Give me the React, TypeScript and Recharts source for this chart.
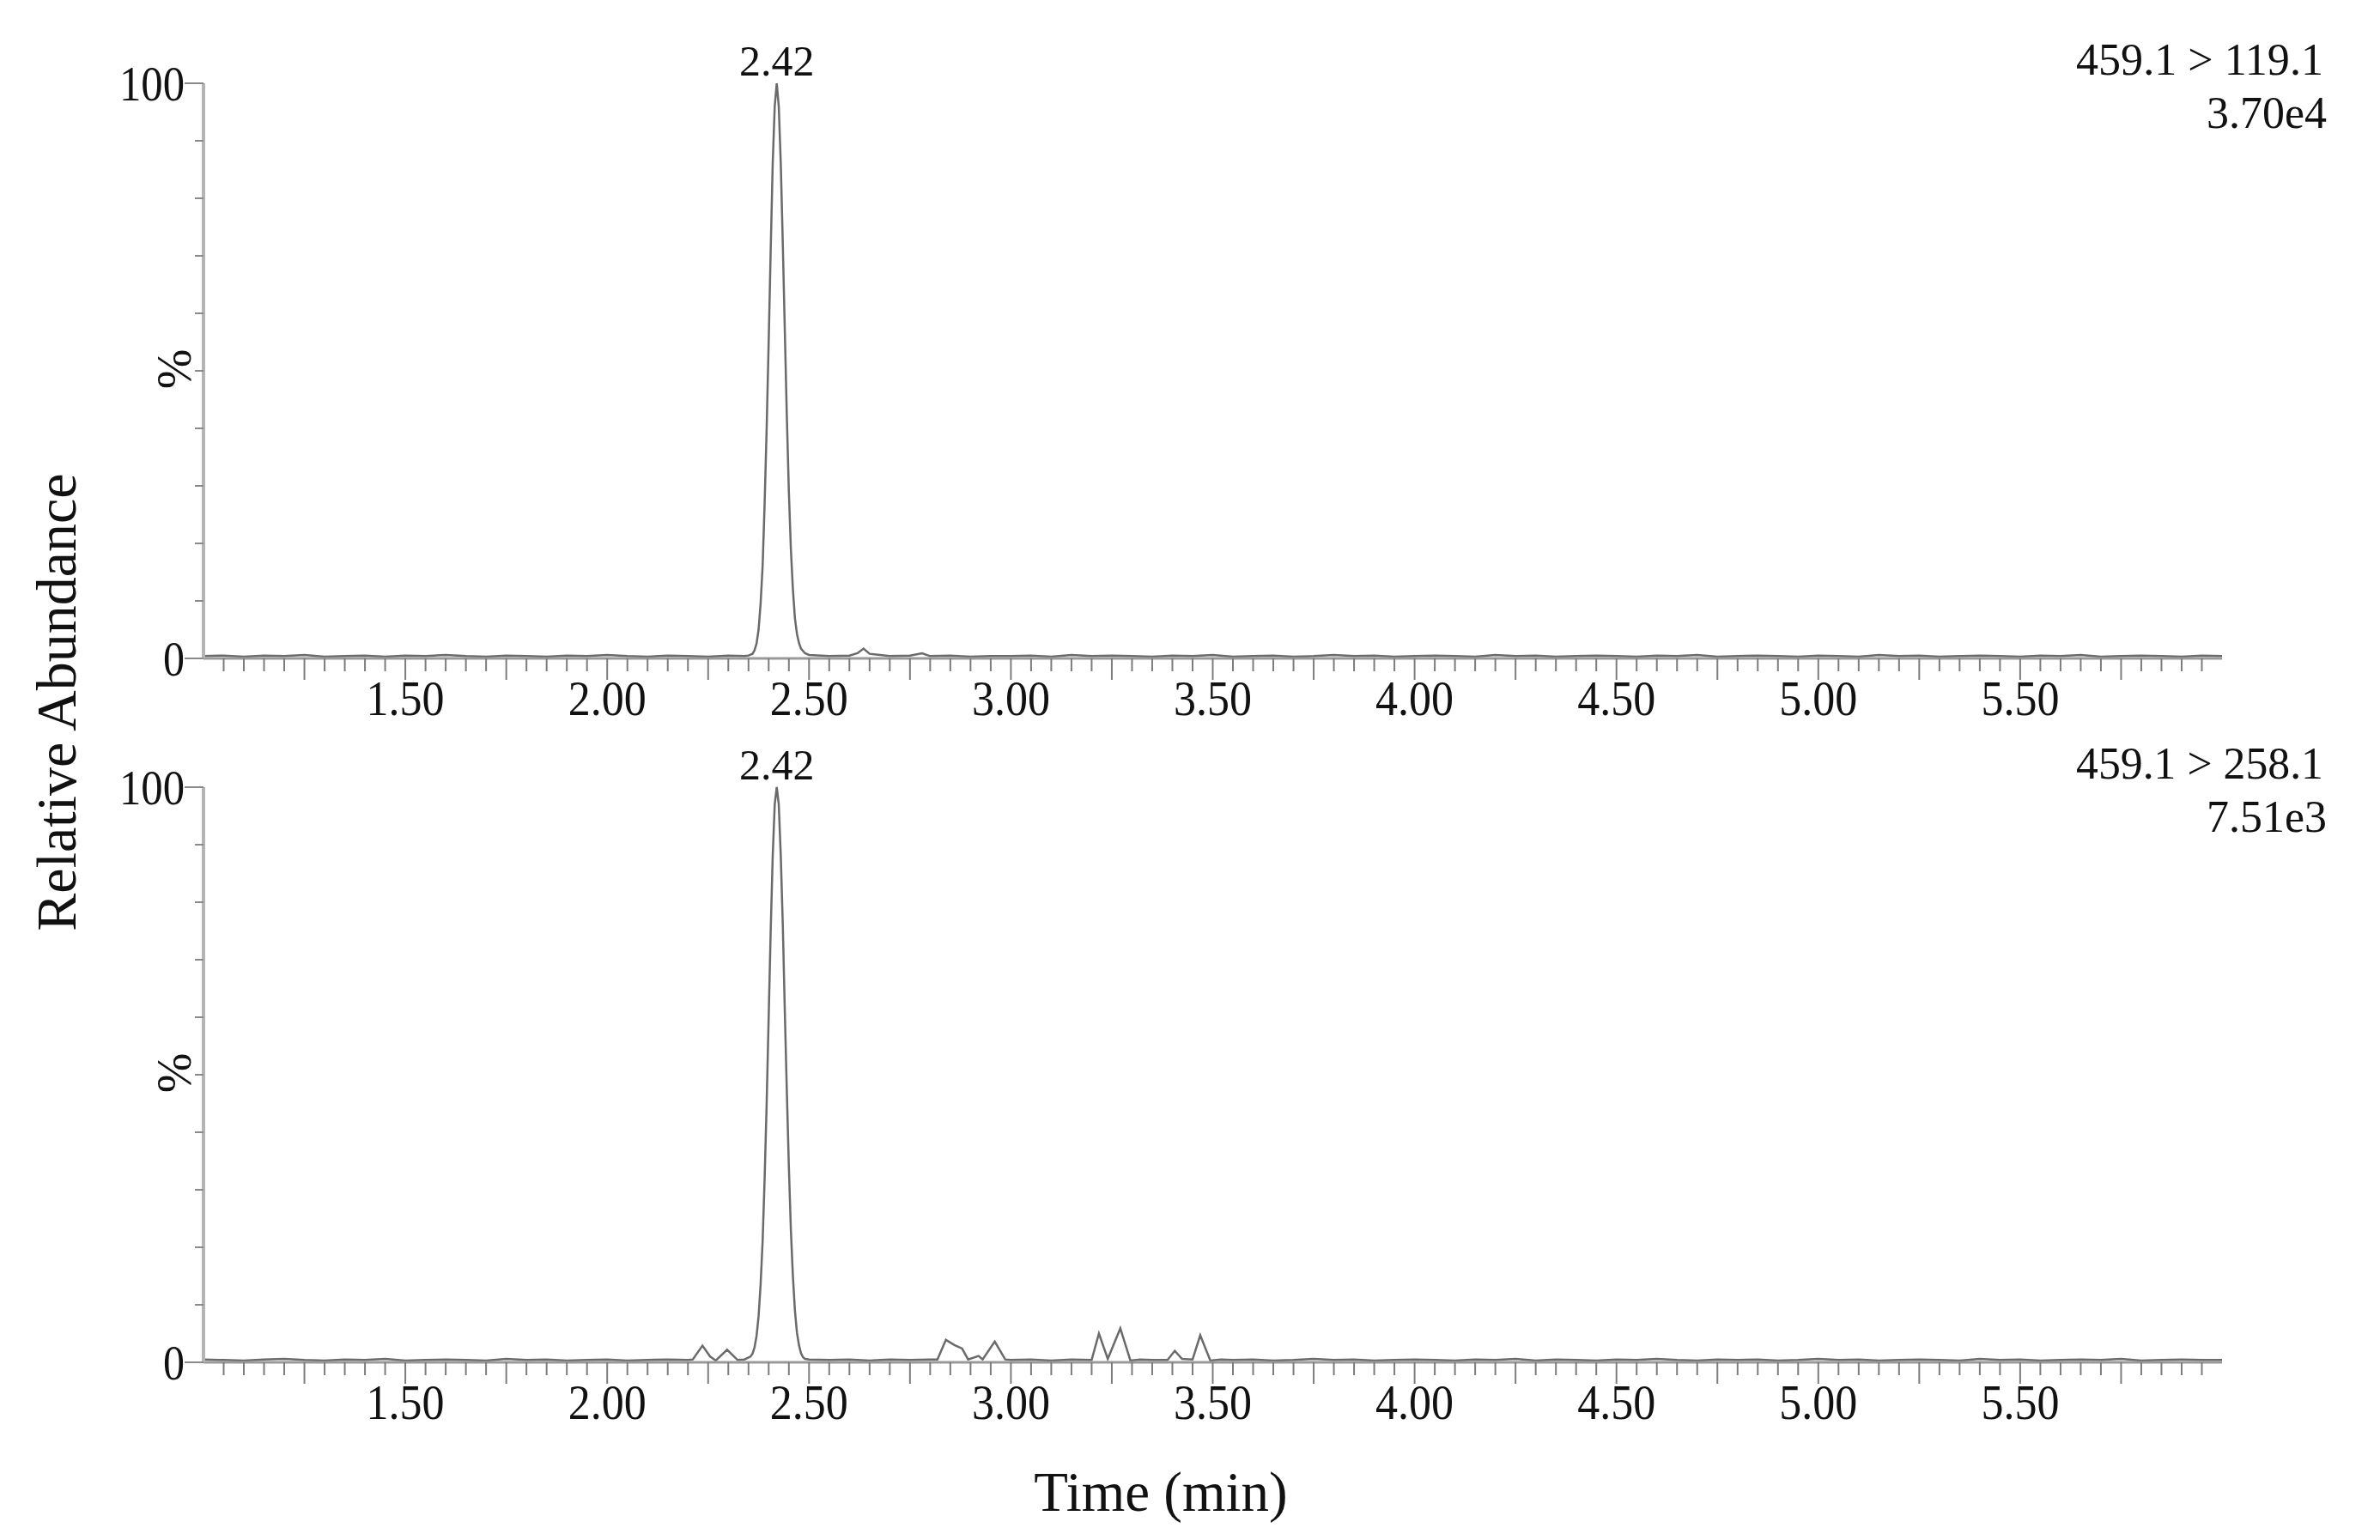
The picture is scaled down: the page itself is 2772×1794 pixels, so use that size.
import { LineChart, Line, XAxis, YAxis, ReferenceDot } from 'recharts';

const FONT = '"Liberation Serif", "Times New Roman", serif';
const W = 2772;
const PANEL_H = 847;
const PANEL_TOPS = [0, 820];

// channel text, top-right of each trace
const TRANSITIONS = ['459.1 > 119.1', '459.1 > 258.1'];
const INTENSITIES = ['3.70e4', '7.51e3'];
const PEAK_LABELS = ['2.42', '2.42'];

// axis ticks
const X_LABELS = [1.5, 2.0, 2.5, 3.0, 3.5, 4.0, 4.5, 5.0, 5.5];
const X_TICKS = Array.from({ length: 99 }, (_, i) => Math.round((1.05 + i * 0.05) * 100) / 100);
const Y_TICKS = [0, 10, 20, 30, 40, 50, 60, 70, 80, 90, 100];

// 459.1 > 119.1 (min, % relative abundance)
const TOP_TIME = [
  1.00, 1.05, 1.10, 1.15, 1.20, 1.25, 1.30, 1.35, 1.40, 1.45,
  1.50, 1.55, 1.60, 1.65, 1.70, 1.75, 1.80, 1.85, 1.90, 1.95,
  2.00, 2.05, 2.10, 2.15, 2.20, 2.25, 2.30,
  2.34, 2.35, 2.36, 2.365, 2.37, 2.375, 2.38, 2.385, 2.39, 2.395,
  2.40, 2.405, 2.41, 2.415, 2.42, 2.425, 2.43, 2.435, 2.44, 2.445,
  2.45, 2.455, 2.46, 2.465, 2.47, 2.475, 2.48, 2.49, 2.50,
  2.55, 2.60, 2.62, 2.635, 2.65, 2.70, 2.75, 2.78, 2.80, 2.85, 2.90, 2.95,
  3.00, 3.05, 3.10, 3.15, 3.20, 3.25, 3.30, 3.35, 3.40, 3.45,
  3.50, 3.55, 3.60, 3.65, 3.70, 3.75, 3.80, 3.85, 3.90, 3.95,
  4.00, 4.05, 4.10, 4.15, 4.20, 4.25, 4.30, 4.35, 4.40, 4.45,
  4.50, 4.55, 4.60, 4.65, 4.70, 4.75, 4.80, 4.85, 4.90, 4.95,
  5.00, 5.05, 5.10, 5.15, 5.20, 5.25, 5.30, 5.35, 5.40, 5.45,
  5.50, 5.55, 5.60, 5.65, 5.70, 5.75, 5.80, 5.85, 5.90, 5.95,
  6.00,
];
const TOP_ABUND = [
  0.4, 0.5, 0.3, 0.5, 0.4, 0.6, 0.3, 0.4, 0.5, 0.3,
  0.5, 0.4, 0.6, 0.4, 0.3, 0.5, 0.4, 0.3, 0.5, 0.4,
  0.6, 0.4, 0.3, 0.5, 0.4, 0.3, 0.5,
  0.4, 0.5, 0.8, 1.4, 2.6, 5, 9.5, 16, 27, 40,
  55, 71, 86, 96, 100, 96, 86, 72, 57, 42,
  29, 19, 12, 7, 4.3, 2.7, 1.7, 0.9, 0.6,
  0.4, 0.5, 0.9, 1.7, 0.8, 0.4, 0.5, 0.9, 0.4, 0.5, 0.3, 0.4,
  0.4, 0.5, 0.3, 0.6, 0.4, 0.5, 0.4, 0.3, 0.5, 0.4,
  0.6, 0.3, 0.4, 0.5, 0.3, 0.4, 0.6, 0.4, 0.5, 0.3,
  0.4, 0.5, 0.4, 0.3, 0.6, 0.4, 0.5, 0.3, 0.4, 0.5,
  0.4, 0.3, 0.5, 0.4, 0.6, 0.3, 0.4, 0.5, 0.4, 0.3,
  0.5, 0.4, 0.3, 0.6, 0.4, 0.5, 0.3, 0.4, 0.5, 0.4,
  0.3, 0.5, 0.4, 0.6, 0.3, 0.4, 0.5, 0.4, 0.3, 0.5,
  0.4,
];

// 459.1 > 258.1
const BOTTOM_TIME = [
  1.00, 1.05, 1.10, 1.15, 1.20, 1.25, 1.30, 1.35, 1.40, 1.45,
  1.50, 1.55, 1.60, 1.65, 1.70, 1.75, 1.80, 1.85, 1.90, 1.95,
  2.00, 2.05, 2.10, 2.15,
  2.20, 2.212, 2.236, 2.255, 2.269, 2.297, 2.323, 2.34,
  2.355, 2.36, 2.365, 2.37, 2.375, 2.38, 2.385, 2.39, 2.395, 2.40,
  2.405, 2.41, 2.415, 2.42, 2.425, 2.43, 2.435, 2.44, 2.445, 2.45,
  2.455, 2.46, 2.465, 2.47, 2.475, 2.48, 2.485, 2.49,
  2.50, 2.55, 2.60, 2.65, 2.70, 2.75, 2.80, 2.818, 2.839, 2.86, 2.879, 2.894, 2.92, 2.93, 2.96, 2.986,
  3.00, 3.05, 3.10, 3.15, 3.20, 3.218, 3.24, 3.271, 3.296, 3.32, 3.35, 3.388, 3.406, 3.424, 3.45, 3.469, 3.494, 3.52, 3.55,
  3.60, 3.65, 3.70, 3.75, 3.80, 3.85, 3.90, 3.95,
  4.00, 4.05, 4.10, 4.15, 4.20, 4.25, 4.30, 4.35, 4.40, 4.45,
  4.50, 4.55, 4.60, 4.65, 4.70, 4.75, 4.80, 4.85, 4.90, 4.95,
  5.00, 5.05, 5.10, 5.15, 5.20, 5.25, 5.30, 5.35, 5.40, 5.45,
  5.50, 5.55, 5.60, 5.65, 5.70, 5.75, 5.80, 5.85, 5.90, 5.95,
  6.00,
];
const BOTTOM_ABUND = [
  0.5, 0.4, 0.3, 0.5, 0.6, 0.4, 0.3, 0.5, 0.4, 0.6,
  0.3, 0.4, 0.5, 0.4, 0.3, 0.6, 0.4, 0.5, 0.3, 0.4,
  0.5, 0.3, 0.4, 0.5,
  0.4, 0.5, 2.9, 1.0, 0.3, 2.2, 0.4, 0.5,
  1.0, 1.5, 2.6, 4.6, 8, 13.5, 21, 32, 45, 60,
  75, 88, 97, 100, 97, 88, 76, 61, 47, 34,
  23, 15, 9, 5.2, 3.0, 1.6, 0.9, 0.6,
  0.5, 0.4, 0.5, 0.3, 0.5, 0.4, 0.5, 0.5, 3.9, 3.0, 2.4, 0.5, 1.1, 0.5, 3.6, 0.5,
  0.4, 0.5, 0.3, 0.5, 0.4, 5.0, 0.6, 5.9, 0.3, 0.5, 0.4, 0.4, 2.0, 0.6, 0.5, 4.7, 0.3, 0.5, 0.4,
  0.5, 0.3, 0.4, 0.6, 0.4, 0.5, 0.3, 0.4,
  0.5, 0.4, 0.3, 0.5, 0.4, 0.6, 0.3, 0.5, 0.4, 0.3,
  0.5, 0.4, 0.6, 0.4, 0.3, 0.5, 0.4, 0.5, 0.3, 0.4,
  0.6, 0.4, 0.5, 0.3, 0.4, 0.5, 0.4, 0.3, 0.6, 0.4,
  0.5, 0.3, 0.4, 0.5, 0.4, 0.6, 0.3, 0.4, 0.5, 0.4,
  0.4,
];

const isQuarter = (v: number) => Math.abs(v * 4 - Math.round(v * 4)) < 1e-6;

function XTick(props: any) {
  const { x, y, payload } = props;
  const v = payload.value as number;
  const labeled = X_LABELS.some((l) => Math.abs(l - v) < 1e-6);
  return (
    <g>
      <line x1={x} x2={x} y1={y} y2={y + (isQuarter(v) ? 25 : 15)} stroke="#7c7c7c" strokeWidth={2} />
      {labeled && (
        <text
          x={x}
          y={y + 66}
          textAnchor="middle"
          fontSize={56}
          fontFamily={FONT}
          fill="#111"
          textLength={91}
          lengthAdjust="spacingAndGlyphs"
        >
          {v.toFixed(2)}
        </text>
      )}
    </g>
  );
}

function YTick(props: any) {
  const { x, y, payload } = props;
  const v = payload.value as number;
  const major = v === 0 || v === 100;
  return (
    <g>
      <line x1={x - (major ? 22 : 10)} x2={x} y1={y} y2={y} stroke="#8a8a8a" strokeWidth={2} />
      {major && (
        <text
          x={x - 22}
          y={y}
          textAnchor="end"
          dominantBaseline="central"
          fontSize={58}
          fontFamily={FONT}
          fill="#111"
          textLength={v === 100 ? 76 : 25}
          lengthAdjust="spacingAndGlyphs"
        >
          {v}
        </text>
      )}
      {v === 50 && (
        <text
          transform={`translate(${x - 34}, ${y - 2}) rotate(-90)`}
          textAnchor="middle"
          dominantBaseline="central"
          fontSize={56}
          fontFamily={FONT}
          fill="#111"
        >
          %
        </text>
      )}
    </g>
  );
}

interface PanelProps {
  time: number[];
  abund: number[];
  top: number;
  peakLabel: string;
}

function Panel({ time, abund, top, peakLabel }: PanelProps) {
  const data = time.map((t, i) => ({ t, v: abund[i] }));
  const peakIdx = abund.indexOf(Math.max(...abund));

  return (
    <div style={{ position: 'absolute', left: 0, top, width: W, height: PANEL_H }}>
      <LineChart width={W} height={PANEL_H} data={data} margin={{ top: 97, right: 184, bottom: 0, left: 0 }}>
        <XAxis
          dataKey="t"
          type="number"
          domain={[1, 6]}
          ticks={X_TICKS}
          interval={0}
          tickSize={0}
          tickMargin={0}
          tickLine={false}
          tick={<XTick />}
          axisLine={{ stroke: '#9a9a9a', strokeWidth: 3 }}
          height={80}
          allowDataOverflow
        />
        <YAxis
          type="number"
          domain={[0, 100]}
          ticks={Y_TICKS}
          interval={0}
          tickSize={0}
          tickMargin={0}
          tickLine={false}
          tick={<YTick />}
          axisLine={{ stroke: '#b4b4b4', strokeWidth: 4 }}
          width={237}
        />
        <Line
          dataKey="v"
          type="linear"
          stroke="#6a6a6a"
          strokeWidth={2.5}
          dot={false}
          isAnimationActive={false}
        />
        <ReferenceDot
          x={time[peakIdx]}
          y={abund[peakIdx]}
          r={0}
          fill="none"
          stroke="none"
          label={{
            value: peakLabel,
            position: 'top',
            offset: 9,
            fontSize: 50,
            fill: '#111',
            fontFamily: FONT,
          }}
        />
      </LineChart>
    </div>
  );
}

export default function App() {
  return (
    <div
      style={{
        position: 'absolute',
        left: 0,
        top: 0,
        width: W,
        height: 1794,
        background: '#fff',
        fontFamily: FONT,
      }}
    >
      <Panel time={TOP_TIME} abund={TOP_ABUND} top={PANEL_TOPS[0]} peakLabel={PEAK_LABELS[0]} />
      <Panel time={BOTTOM_TIME} abund={BOTTOM_ABUND} top={PANEL_TOPS[1]} peakLabel={PEAK_LABELS[1]} />
      <svg
        width={W}
        height={1794}
        style={{ position: 'absolute', left: 0, top: 0, pointerEvents: 'none' }}
      >
        <text transform="translate(88, 818) rotate(-90)" textAnchor="middle" fontSize={66} fontFamily={FONT} fill="#111">
          Relative Abundance
        </text>
        <text x={1352} y={1760} textAnchor="middle" fontSize={65} fontFamily={FONT} fill="#111">
          Time (min)
        </text>
        {TRANSITIONS.map((t, i) => (
          <g key={t}>
            <text
              x={2706}
              y={87 + PANEL_TOPS[i]}
              textAnchor="end"
              fontSize={52}
              fontFamily={FONT}
              fill="#111"
              textLength={288}
              lengthAdjust="spacingAndGlyphs"
            >
              {t}
            </text>
            <text
              x={2710}
              y={149 + PANEL_TOPS[i]}
              textAnchor="end"
              fontSize={52}
              fontFamily={FONT}
              fill="#111"
              textLength={140}
              lengthAdjust="spacingAndGlyphs"
            >
              {INTENSITIES[i]}
            </text>
          </g>
        ))}
      </svg>
    </div>
  );
}
